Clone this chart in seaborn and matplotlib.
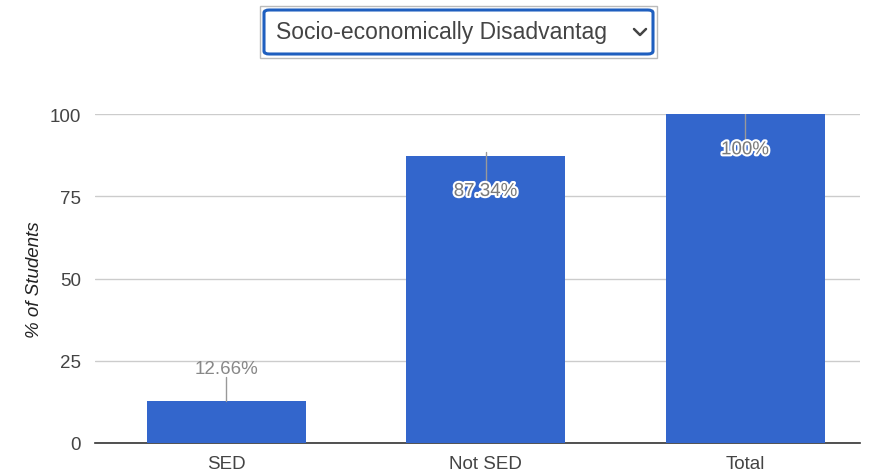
import matplotlib
matplotlib.use("Agg")
import matplotlib.pyplot as plt
import matplotlib.patheffects as pe
from matplotlib.patches import FancyBboxPatch, Rectangle
from matplotlib.lines import Line2D
import seaborn as sns
import pandas as pd

categories = ["SED", "Not SED", "Total"]
percents = [12.66, 87.34, 100]
labels = ["12.66%", "87.34%", "100%"]
yticks = [0, 25, 50, 75, 100]
dropdown_text = "Socio-economically Disadvantag"

sns.set_theme(style="white")
plt.rcParams['font.family'] = ['Liberation Sans', 'DejaVu Sans']

df = pd.DataFrame({"group": categories, "pct": percents})

fig = plt.figure(figsize=(8.75, 4.77), dpi=100)
ax = fig.add_axes([95 / 875, 1 - 444 / 477, 765 / 875, 329 / 477])

sns.barplot(data=df, x="group", y="pct", color="#3366CC", saturation=1,
            width=0.613, ax=ax, zorder=3, edgecolor="none", linewidth=0)

ax.set_xlim(-0.505, 2.443)
ax.set_ylim(0, 100)
ax.set_yticks(yticks)
ax.yaxis.grid(True, color="#cccccc", linewidth=1)
ax.set_axisbelow(True)
for s in ["top", "right", "left"]:
    ax.spines[s].set_visible(False)
ax.spines["bottom"].set_color("#333333")
ax.spines["bottom"].set_linewidth(1.2)
ax.tick_params(axis="both", length=0, labelsize=13.5, labelcolor="#444444")
ax.tick_params(axis="x", pad=9)
ax.tick_params(axis="y", pad=10)
ax.set_xlabel("")
ax.set_ylabel("% of Students", fontsize=13.5, style="italic", color="#222222", labelpad=5)

# value labels with leader lines
halo = [pe.withStroke(linewidth=3, foreground="white")]
for i, (v, lab) in enumerate(zip(percents, labels)):
    if v < 50:
        ax.plot([i, i], [v, v + 7.5], color="#999999", lw=1, zorder=4)
        ax.text(i, v + 7.5, lab, ha="center", va="bottom", fontsize=13.5,
                color="#888888", zorder=5)
    else:
        ax.plot([i, i], [v + 1, v - 8], color="#999999", lw=1, zorder=4)
        t = ax.text(i, v - 8.3, lab, ha="center", va="top", fontsize=13.5,
                    color="#7a7a7a", zorder=5)
        t.set_path_effects(halo)

# dropdown box at top
fig.patches.append(Rectangle((260 / 875, 1 - 59 / 477), 397 / 875, 52 / 477,
                             transform=fig.transFigure, facecolor="white",
                             edgecolor="#bbbbbb", linewidth=1))
fig.patches.append(FancyBboxPatch((264 / 875, 1 - 55 / 477), 389 / 875, 44 / 477,
                                  boxstyle="round,pad=0,rounding_size=0.006",
                                  transform=fig.transFigure, facecolor="white",
                                  edgecolor="#1f5fbf", linewidth=2.2))
fig.text(276 / 875, 1 - 33 / 477, dropdown_text, fontsize=16.5, color="#444444",
         va="center", ha="left")
fig.add_artist(Line2D([634 / 875, 640 / 875, 646 / 875],
                      [1 - 30 / 477, 1 - 36 / 477, 1 - 30 / 477],
                      transform=fig.transFigure, color="#444444", linewidth=1.8))

fig.savefig("out.png", dpi=100)
